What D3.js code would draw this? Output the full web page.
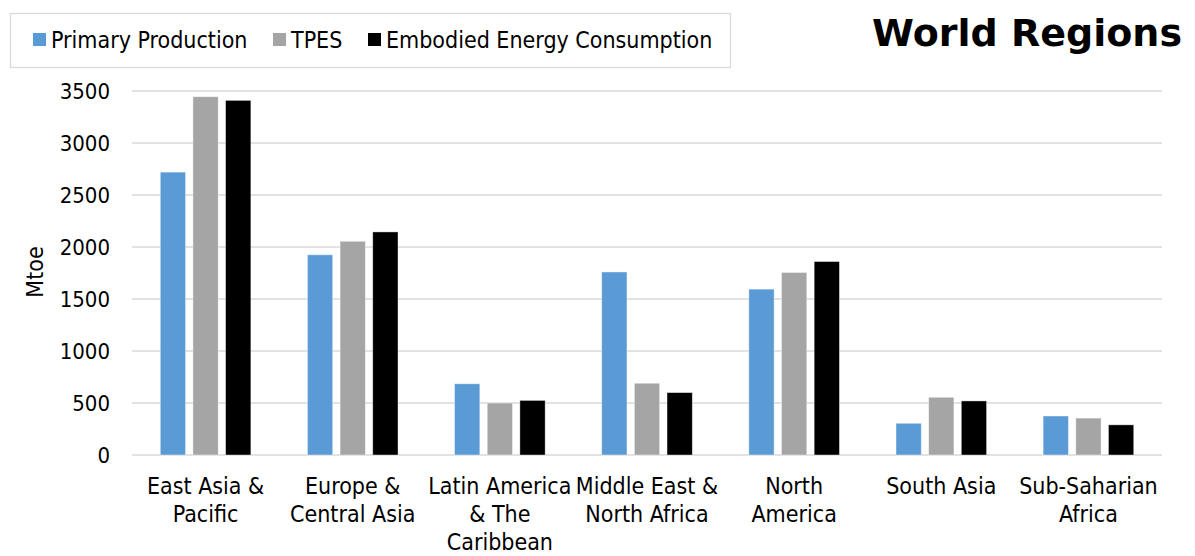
<!DOCTYPE html>
<html>
<head>
<meta charset="utf-8">
<script src="https://cdn.jsdelivr.net/npm/d3@7/dist/d3.min.js"></script>
<style>
  html, body { margin: 0; padding: 0; background: #fff; }
  svg { display: block; }
  text { font-family: "DejaVu Sans Condensed", "DejaVu Sans", sans-serif; fill: #000; }
</style>
</head>
<body>
<svg id="chart" width="1195" height="556"></svg>
<script>
// Regional energy balances, in Mtoe
const categories = [
  ["East Asia &", "Pacific"],
  ["Europe &", "Central Asia"],
  ["Latin America", "& The", "Caribbean"],
  ["Middle East &", "North Africa"],
  ["North", "America"],
  ["South Asia"],
  ["Sub-Saharian", "Africa"]
];
const seriesNames = ["Primary Production", "TPES", "Embodied Energy Consumption"];
const seriesColors = ["#5B9BD5", "#A5A5A5", "#000000"];
const primaryProduction = [2720, 1925, 685, 1760, 1595, 305, 375];
const tpes              = [3445, 2055, 500, 690, 1755, 555, 355];
const embodiedEnergy    = [3410, 2145, 525, 600, 1860, 520, 290];
const yTicks = [0, 500, 1000, 1500, 2000, 2500, 3000, 3500];

const seriesValues = [primaryProduction, tpes, embodiedEnergy];
const catKeys = categories.map(c => c.join(" "));
const FONT = '"DejaVu Sans Condensed", "DejaVu Sans", sans-serif';

const svg = d3.select("#chart");
const plot = { left: 132, right: 1162, top: 91, bottom: 455 };

const x0 = d3.scaleBand().domain(catKeys).range([plot.left, plot.right]).padding(0);
const groupHalf = 45.3;
const x1 = d3.scaleBand().domain(seriesNames)
  .range([x0.bandwidth() / 2 - groupHalf, x0.bandwidth() / 2 + groupHalf])
  .paddingInner(0.226).paddingOuter(0);
const y = d3.scaleLinear().domain([0, 3500]).range([plot.bottom, plot.top]);

// Horizontal gridlines
svg.append("g")
  .selectAll("line")
  .data(yTicks)
  .join("line")
  .attr("x1", plot.left).attr("x2", plot.right)
  .attr("y1", d => y(d)).attr("y2", d => y(d))
  .attr("stroke", "#D9D9D9").attr("stroke-width", 1.3);

// Y axis tick labels
const yAxis = d3.axisLeft(y).tickValues(yTicks).tickFormat(d3.format("d")).tickSize(0).tickPadding(0);
const yG = svg.append("g").attr("transform", `translate(${plot.left - 22},0)`).call(yAxis);
yG.select(".domain").remove();
yG.selectAll("text").attr("font-size", 22).attr("dy", "0.36em")
  .style("font-family", FONT).attr("fill", "#000");

// Y axis title
svg.append("text")
  .attr("transform", `translate(43, ${(plot.top + plot.bottom) / 2 - 1}) rotate(-90)`)
  .attr("text-anchor", "middle")
  .attr("font-size", 23)
  .text("Mtoe");

// Bars
const rows = categories.map((c, i) => ({ key: catKeys[i], vals: seriesNames.map((s, j) => ({ s, j, v: seriesValues[j][i] })) }));
svg.append("g")
  .selectAll("g")
  .data(rows)
  .join("g")
  .attr("transform", d => `translate(${x0(d.key)},0)`)
  .selectAll("rect")
  .data(d => d.vals)
  .join("rect")
  .attr("x", d => x1(d.s))
  .attr("width", x1.bandwidth())
  .attr("y", d => y(d.v))
  .attr("height", d => y(0) - y(d.v))
  .attr("fill", d => seriesColors[d.j])
  .attr("stroke", "#ffffff").attr("stroke-opacity", 0.5).attr("stroke-width", 0.8);

// Category labels
const xAxis = svg.append("g");
rows.forEach((r, i) => {
  const cx = x0(r.key) + x0.bandwidth() / 2;
  const t = xAxis.append("text")
    .attr("x", cx)
    .attr("y", 494)
    .attr("text-anchor", "middle")
    .attr("font-size", 23);
  categories[i].forEach((line, k) => {
    t.append("tspan").attr("x", cx).attr("dy", k === 0 ? 0 : 28).text(line);
  });
});

// Legend
const legend = svg.append("g");
legend.append("rect")
  .attr("x", 10.5).attr("y", 13.5).attr("width", 720).attr("height", 54)
  .attr("fill", "#fff").attr("stroke", "#D9D9D9").attr("stroke-width", 1.3);
const legendX = [33, 273, 368];
seriesNames.forEach((s, j) => {
  legend.append("rect")
    .attr("x", legendX[j]).attr("y", 33).attr("width", 13).attr("height", 13)
    .attr("fill", seriesColors[j]);
  legend.append("text")
    .attr("x", legendX[j] + 18).attr("y", 47.5)
    .attr("font-size", 23)
    .text(s);
});

// Title
svg.append("text")
  .attr("x", 1182).attr("y", 46)
  .attr("text-anchor", "end")
  .attr("font-size", 38).attr("font-weight", "bold")
  .style("font-family", '"DejaVu Sans", sans-serif')
  .text("World Regions");
</script>
</body>
</html>
